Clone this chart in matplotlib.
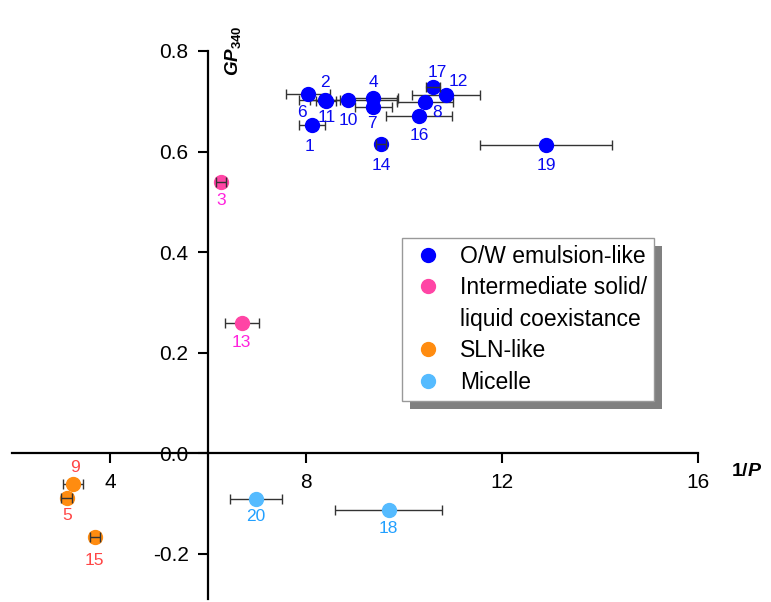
import matplotlib
matplotlib.use('Agg')
import matplotlib.pyplot as plt
from matplotlib.lines import Line2D
from matplotlib.patches import Rectangle

plt.rcParams['font.family'] = ['Liberation Sans', 'DejaVu Sans']
plt.rcParams['mathtext.fontset'] = 'custom'
plt.rcParams['mathtext.rm'] = 'Liberation Sans'
plt.rcParams['mathtext.it'] = 'Liberation Sans:italic'
plt.rcParams['mathtext.bf'] = 'Liberation Sans:bold'
plt.rcParams['mathtext.bfit'] = 'Liberation Sans:bold:italic'

# datos
ow_ids = [1, 2, 6, 11, 10, 4, 7, 14, 17, 12, 8, 16, 19]
ow_x = [8.12, 8.39, 8.04, 8.41, 8.86, 9.37, 9.37, 9.53, 10.59, 10.86, 10.43, 10.31, 12.90]
ow_y = [0.652, 0.702, 0.714, 0.700, 0.702, 0.706, 0.688, 0.616, 0.728, 0.712, 0.698, 0.670, 0.614]
ow_xerr = [0.27, 0.30, 0.45, 0.20, 1.00, 0.50, 0.38, 0.10, 0.14, 0.70, 0.57, 0.67, 1.34]

mid_ids = [3, 13]
mid_x = [6.27, 6.69]
mid_y = [0.539, 0.258]
mid_xerr = [0.10, 0.35]

sln_ids = [9, 5, 15]
sln_x = [3.24, 3.12, 3.69]
sln_y = [-0.062, -0.089, -0.167]
sln_xerr = [0.20, 0.11, 0.10]

mic_ids = [20, 18]
mic_x = [6.98, 9.69]
mic_y = [-0.091, -0.113]
mic_xerr = [0.54, 1.09]

legend_labels = ['O/W emulsion-like', 'Intermediate solid/', 'liquid coexistance',
                 'SLN-like', 'Micelle']

# desplazamiento de las etiquetas (pixeles, hacia abajo positivo)
label_offsets = {1: (-2, 21), 2: (0, -18), 6: (-6, 18), 11: (1, 16), 10: (0, 20),
                 4: (0, -16), 7: (-1, 16), 14: (0, 22), 17: (4, -15), 12: (12, -14),
                 8: (12, 10), 16: (0, 19), 19: (0, 21), 3: (0, 18), 13: (0, 19),
                 9: (2, -17), 5: (0, 18), 15: (0, 23), 20: (0, 18), 18: (0, 18)}

groups = [
    (ow_ids, ow_x, ow_y, ow_xerr, '#0000ff', '#0a0af0'),
    (mid_ids, mid_x, mid_y, mid_xerr, '#ff45a5', '#ff22dd'),
    (sln_ids, sln_x, sln_y, sln_xerr, '#ff8c10', '#ff4545'),
    (mic_ids, mic_x, mic_y, mic_xerr, '#55bbff', '#22a0ff'),
]

fig = plt.figure(figsize=(7.71, 6.02), dpi=100)
ax = fig.add_axes([12 / 771, 3 / 602, 686 / 771, 548 / 602])
ax.patch.set_visible(False)

for ids, xs, ys, xerrs, color, lcolor in groups:
    for i, x, y, e in zip(ids, xs, ys, xerrs):
        z = 4 if e < 0.15 else 2
        ax.errorbar(x, y, xerr=e, fmt='none', ecolor='#333333', elinewidth=1,
                    capsize=3.5, capthick=1, zorder=z, clip_on=False)
        ax.plot(x, y, 'o', ms=10, color=color, mec=color, zorder=3, clip_on=False)
        dx, dy = label_offsets[i]
        ax.annotate(str(i), (x, y), xytext=(dx, -dy), textcoords='offset pixels',
                    ha='center', va='center', fontsize=12.5, color=lcolor)

ax.set_xlim(2, 16)
ax.set_ylim(-0.29, 0.8)
ax.spines['left'].set_position(('data', 6))
ax.spines['bottom'].set_position(('data', 0))
ax.spines['top'].set_visible(False)
ax.spines['right'].set_visible(False)
for s in ['left', 'bottom']:
    ax.spines[s].set_linewidth(1.6)
ax.set_xticks([4, 8, 12, 16])
ax.set_xticklabels(['4', '8', '12', '16'])
ax.set_yticks([-0.2, 0.0, 0.2, 0.4, 0.6, 0.8])
ax.set_yticklabels(['-0.2', '0.0', '0.2', '0.4', '0.6', '0.8'])
ax.tick_params(direction='out', length=7, width=1.5, labelsize=15, pad=7)

ax.text(6.51, 0.80, r'$\mathbfit{GP}_{\mathbf{340}}$', rotation=90, fontsize=13.5,
        ha='center', va='center')
ax.text(17.0, -0.036, r'$\mathbf{1/}\mathbfit{P}$', fontsize=14, ha='center', va='center')

handles = [Line2D([], [], ls='', marker='o', ms=10, color=g[4]) for g in groups]
handles.insert(2, Line2D([], [], ls='', marker=''))
leg = ax.legend(handles, legend_labels, loc='upper left',
                bbox_to_anchor=(402 / 771, 1 - 238 / 602), bbox_transform=fig.transFigure,
                fontsize=16.5, frameon=True, fancybox=False, edgecolor='#999999',
                framealpha=1, borderaxespad=0, handlelength=1.65, handletextpad=0.58,
                labelspacing=0.37, borderpad=0.3)
leg.get_frame().set_linewidth(1.0)
leg.set_zorder(6)

fig.canvas.draw()
bb = leg.get_window_extent()
shadow = Rectangle((bb.x0 + 8, bb.y0 - 8), bb.width, bb.height, transform=None,
                   facecolor='#808080', edgecolor='none', zorder=5)
shadow.set_clip_on(False)
ax.add_patch(shadow)

fig.savefig('out.png', dpi=100)
